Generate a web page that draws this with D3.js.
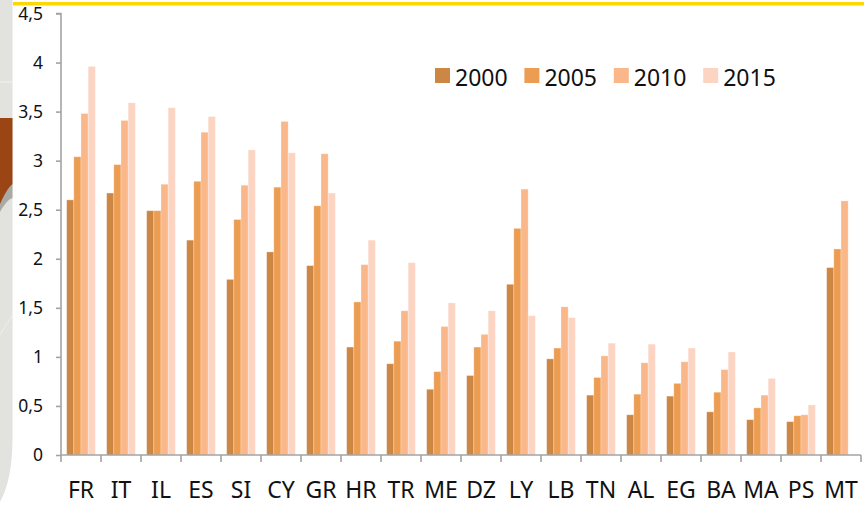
<!DOCTYPE html>
<html>
<head>
<meta charset="utf-8">
<script src="https://cdn.jsdelivr.net/npm/d3@7"></script>
<style>
  html, body { margin: 0; padding: 0; background: #ffffff; }
  svg { display: block; }
</style>
</head>
<body>
<svg id="chart" width="864" height="506"></svg>
<script>
// ---- data ----
const categories = ["FR","IT","IL","ES","SI","CY","GR","HR","TR","ME","DZ","LY","LB","TN","AL","EG","BA","MA","PS","MT"];
const years = ["2000","2005","2010","2015"];
const v2000 = [2.60,2.67,2.49,2.19,1.79,2.07,1.93,1.10,0.93,0.67,0.81,1.74,0.98,0.61,0.41,0.60,0.44,0.36,0.34,1.91];
const v2005 = [3.04,2.96,2.49,2.79,2.40,2.73,2.54,1.56,1.16,0.85,1.10,2.31,1.09,0.79,0.62,0.73,0.64,0.48,0.40,2.10];
const v2010 = [3.48,3.41,2.76,3.29,2.75,3.40,3.07,1.94,1.47,1.31,1.23,2.71,1.51,1.01,0.94,0.95,0.87,0.61,0.41,2.59];
const v2015 = [3.96,3.59,3.54,3.45,3.11,3.08,2.67,2.19,1.96,1.55,1.47,1.42,1.40,1.14,1.13,1.09,1.05,0.78,0.51,null];
const yTicks = [0,0.5,1,1.5,2,2.5,3,3.5,4,4.5];
const colors = ["#CD8744","#ED9D52","#F9B78A","#FCD4C2"];

const seriesValues = [v2000, v2005, v2010, v2015];
const rows = [];
categories.forEach((c, i) => {
  years.forEach((y, j) => {
    const v = seriesValues[j][i];
    if (v !== null && v !== undefined) rows.push({cat: c, year: y, value: v});
  });
});

const svg = d3.select("#chart");
const font = "'Noto Sans', 'Open Sans', sans-serif";

// ---- background decoration (left panel, top line) ----
const deco = svg.append("g");
deco.append("path")
  .attr("d", "M0,0 L12.5,0 L12.5,440 C12.5,465 8,488 0,502 Z")
  .attr("fill", "#E2E2DE");
deco.append("line").attr("x1", 0).attr("x2", 12.5).attr("y1", 82).attr("y2", 82)
  .attr("stroke", "#F2F2EF").attr("stroke-width", 1);
deco.append("path")
  .attr("d", "M0,200 C4,195 8,188 12.5,184 L12.5,198 C9,199 5,203 0,212 Z")
  .attr("fill", "#A9A9A6");
deco.append("path")
  .attr("d", "M0,118 L12.5,118 L12.5,184 C8,188 4,195 0,204 Z")
  .attr("fill", "#9C4514");
deco.append("line").attr("x1", 0).attr("x2", 12.5).attr("y1", 335).attr("y2", 315)
  .attr("stroke", "#EEEEEA").attr("stroke-width", 1);
deco.append("rect").attr("x", 13).attr("y", 2).attr("width", 851).attr("height", 3.5)
  .attr("fill", "#FFD700");

// ---- scales ----
const x0 = d3.scaleBand().domain(categories).range([61, 861]).paddingInner(0).paddingOuter(0);
const x1 = d3.scaleBand().domain(years).range([0, x0.bandwidth()]).paddingInner(0).paddingOuter(0.79);
const y = d3.scaleLinear().domain([0, 4.5]).range([455, 13.5]);
const color = d3.scaleOrdinal().domain(years).range(colors);

// ---- bars ----
svg.append("g").selectAll("rect").data(rows).join("rect")
  .attr("x", d => x0(d.cat) + x1(d.year))
  .attr("y", d => y(d.value))
  .attr("width", x1.bandwidth())
  .attr("height", d => y(0) - y(d.value))
  .attr("fill", d => color(d.year))
  .attr("stroke", "rgba(255,255,255,0.35)")
  .attr("stroke-width", 0.8);

// ---- axes ----
const axisColor = "#A3A3A3";
const fmt = d => String(d).replace(".", ",");

const yAxis = svg.append("g").attr("transform", "translate(61,0)")
  .call(d3.axisLeft(y).tickValues(yTicks).tickFormat(fmt).tickSize(5).tickPadding(13));
yAxis.select(".domain").attr("stroke", axisColor).attr("stroke-width", 1.6)
  .attr("d", `M-5,${y(4.5)}H0V${y(0)}`);
yAxis.selectAll(".tick line").attr("stroke", axisColor).attr("stroke-width", 1.6);
yAxis.selectAll(".tick text").attr("font-family", font).attr("font-size", 17.5)
  .attr("fill", "#111").attr("dy", "0.34em");

const xAxis = svg.append("g").attr("transform", `translate(0,${y(0)})`)
  .call(d3.axisBottom(x0).tickSize(0).tickPadding(0));
xAxis.select(".domain").attr("stroke", axisColor).attr("stroke-width", 1.6)
  .attr("d", `M61,0H861`);
xAxis.selectAll(".tick text").attr("font-family", font).attr("font-size", 23)
  .attr("fill", "#111").attr("dy", 0).attr("y", 43);
// category boundary ticks
xAxis.append("g").selectAll("line").data(categories.concat(["__end"])).join("line")
  .attr("x1", (d, i) => i < categories.length ? x0(d) : x0(categories[categories.length - 1]) + x0.bandwidth())
  .attr("x2", (d, i) => i < categories.length ? x0(d) : x0(categories[categories.length - 1]) + x0.bandwidth())
  .attr("y1", 0).attr("y2", 7)
  .attr("stroke", axisColor).attr("stroke-width", 1.6);

// ---- legend ----
const legend = svg.append("g").selectAll("g").data(years).join("g")
  .attr("transform", (d, i) => `translate(${435 + i * 89.4},68)`);
legend.append("rect").attr("width", 15).attr("height", 15).attr("fill", d => color(d));
legend.append("text").attr("x", 20).attr("y", 18)
  .attr("font-family", font).attr("font-size", 23).attr("fill", "#111")
  .text(d => d);
</script>
</body>
</html>
